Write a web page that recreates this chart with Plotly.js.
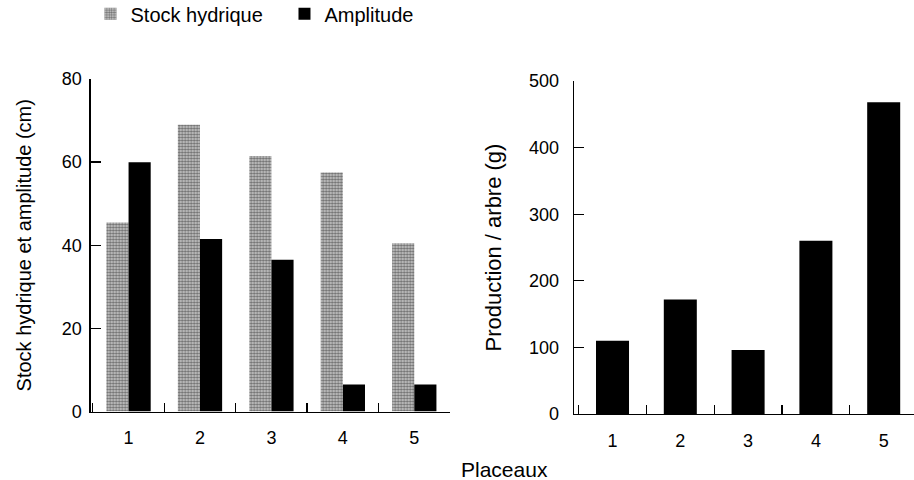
<!DOCTYPE html>
<html>
<head>
<meta charset="utf-8">
<script src="https://cdn.plot.ly/plotly-3.0.1.min.js"></script>
<style>html,body{margin:0;padding:0;background:#fff;}#chart{width:914px;height:480px;}</style>
</head>
<body>
<div id="chart"></div>
<script>
// Data
const placeaux = ["1", "2", "3", "4", "5"];
const stockHydrique = [45.5, 69, 61.5, 57.5, 40.5];   // cm
const amplitude = [60, 41.5, 36.5, 6.5, 6.5];          // cm
const production = [110, 172, 96, 260, 468];          // g / arbre
const leftTicks = [0, 20, 40, 60, 80];
const rightTicks = [0, 100, 200, 300, 400, 500];

const FONT = "Liberation Sans, Arial, Helvetica, sans-serif";

const traces = [
  {
    type: "bar", name: "Stock hydrique", x: placeaux, y: stockHydrique,
    xaxis: "x", yaxis: "y", width: 0.31, offset: -0.31,
    marker: {color: "#a8a8a8", line: {width: 0},
      pattern: {shape: ".", fgcolor: "#6e6e6e", bgcolor: "#cdcdcd", size: 3, solidity: 0.5}}
  },
  {
    type: "bar", name: "Amplitude", x: placeaux, y: amplitude,
    xaxis: "x", yaxis: "y", width: 0.31, offset: 0,
    marker: {color: "#000000", line: {width: 0}}
  },
  {
    type: "bar", name: "Production", x: placeaux, y: production,
    xaxis: "x2", yaxis: "y2", width: 0.487, offset: -0.2435, showlegend: false,
    marker: {color: "#000000", line: {width: 0}}
  }
];

const axisCommon = {
  showgrid: false, zeroline: false, showline: true, linecolor: "#000", linewidth: 1.3,
  ticks: "inside", tickcolor: "#000", tickwidth: 1.3,
  tickfont: {family: FONT, size: 18, color: "#000"}, fixedrange: true
};

const layout = {
  width: 914, height: 480,
  margin: {l: 0, r: 0, t: 0, b: 0, autoexpand: false},
  paper_bgcolor: "#fff", plot_bgcolor: "#fff",
  font: {family: FONT, color: "#000"},
  barmode: "group",
  showlegend: true,
  legend: {orientation: "h", x: 0.099, xanchor: "left", y: 1.012, yanchor: "top",
    entrywidth: 149,
    font: {family: FONT, size: 20, color: "#000"}, bgcolor: "rgba(0,0,0,0)", itemclick: false},
  xaxis: Object.assign({}, axisCommon, {
    domain: [90.7 / 914, 450 / 914], anchor: "y", type: "category",
    range: [-0.53, 4.5], tickson: "boundaries", ticklen: 9, ticklabelstandoff: 10
  }),
  yaxis: Object.assign({}, axisCommon, {
    domain: [(480 - 411.5) / 480, (480 - 79) / 480], anchor: "x",
    range: [0, 80], tickvals: leftTicks, ticklen: 10, ticklabelstandoff: 4,
    title: {text: "Stock hydrique et amplitude (cm)", font: {family: FONT, size: 20, color: "#000"}, standoff: 24}
  }),
  xaxis2: Object.assign({}, axisCommon, {
    domain: [574 / 914, 1], anchor: "y2", type: "category",
    range: [-0.568, 4.447], tickson: "boundaries", ticklen: 9, ticklabelstandoff: 10
  }),
  yaxis2: Object.assign({}, axisCommon, {
    domain: [(480 - 414) / 480, (480 - 81) / 480], anchor: "x2",
    range: [0, 500], tickvals: rightTicks, ticklen: 10, ticklabelstandoff: 10,
    title: {text: "Production / arbre (g)", font: {family: FONT, size: 22, color: "#000"}, standoff: 21}
  }),
  annotations: [
    {text: "Placeaux", xref: "paper", yref: "paper", x: 504 / 914, y: (480 - 469) / 480,
     xanchor: "center", yanchor: "middle", showarrow: false,
     font: {family: FONT, size: 21, color: "#000"}}
  ]
};

Plotly.newPlot("chart", traces, layout, {displayModeBar: false, staticPlot: true});
</script>
</body>
</html>
